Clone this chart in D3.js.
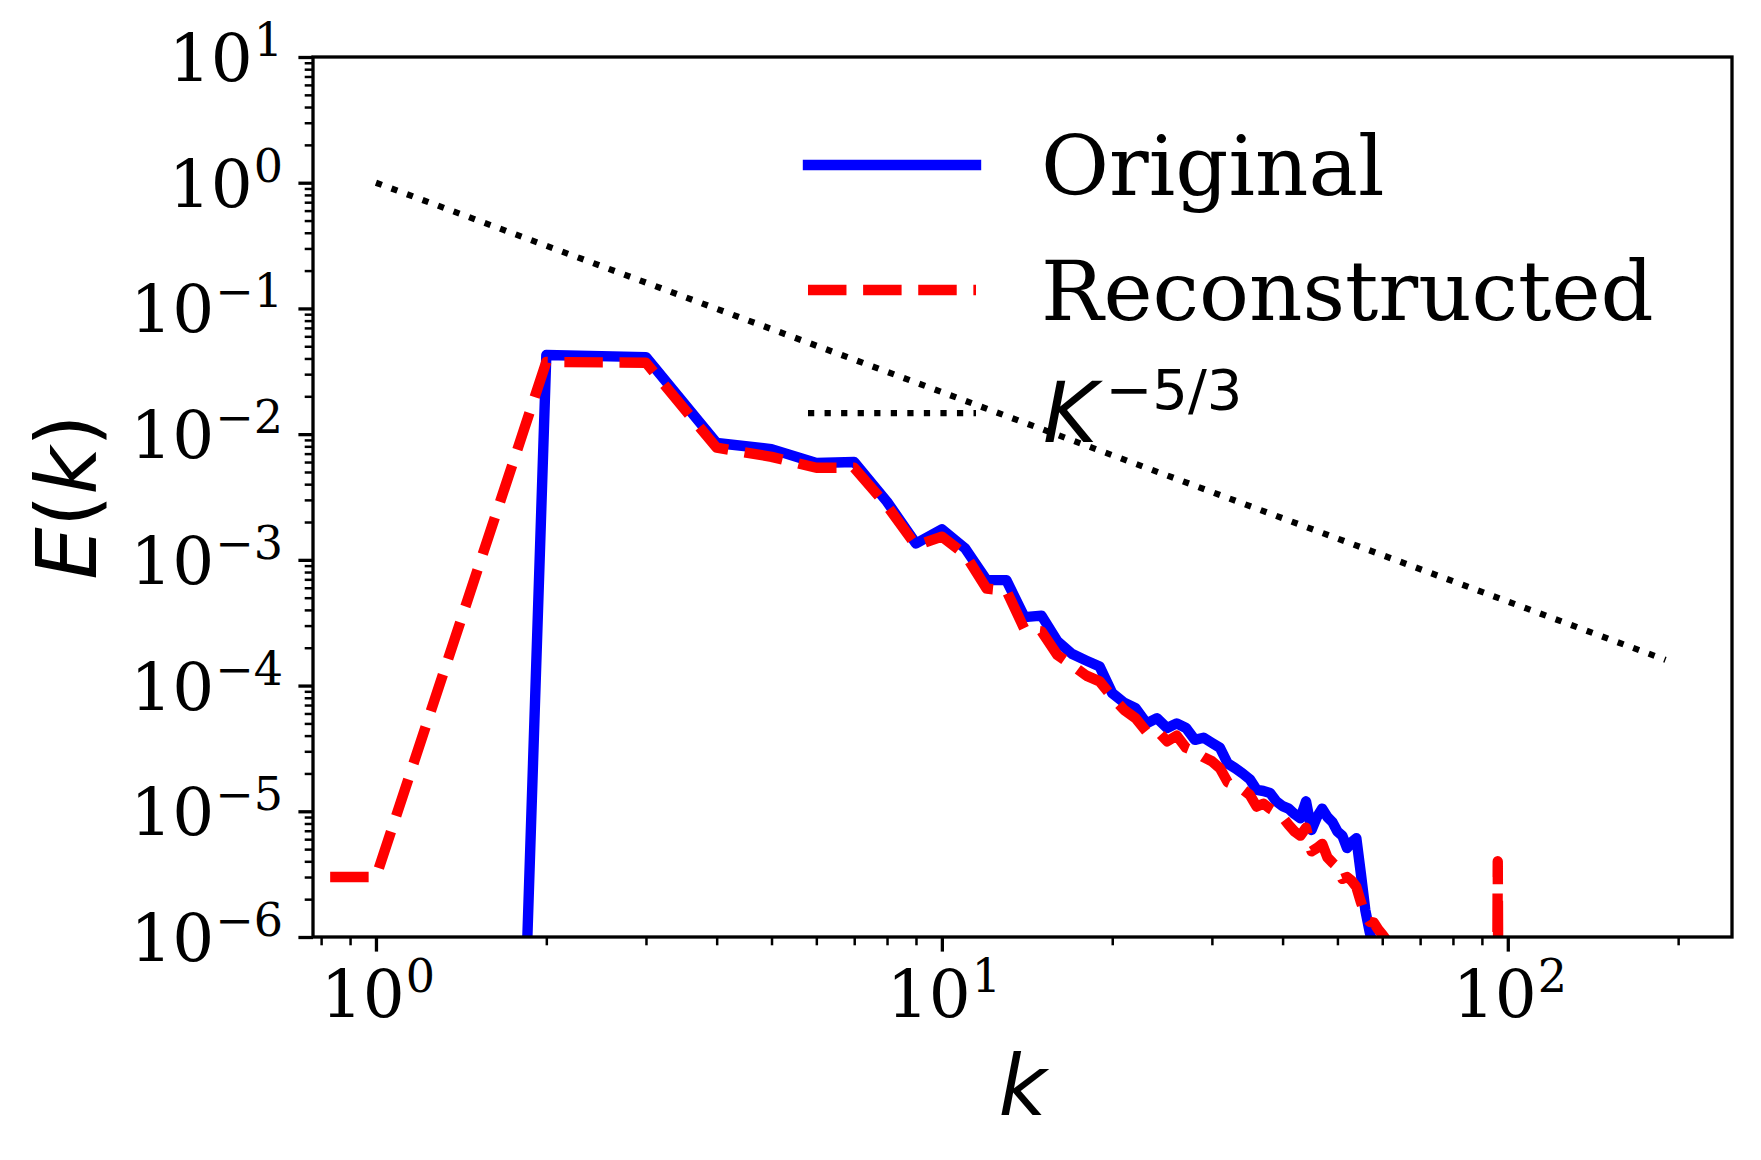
<!DOCTYPE html>
<html lang="en">
<head>
<meta charset="UTF-8">
<script src="https://d3js.org/d3.v7.min.js"></script>
<style>
    body {margin: 0; background-color: #ffffff;}
    svg {display: block;}
</style>
</head>
<body>
<svg class="chart"></svg>
<script>
// wavenumbers and spectra
const kOrig = [1, 2, 3, 4, 5, 6, 7, 8, 9, 10,
    11, 12, 13, 14, 15, 16, 17, 18, 19, 20,
    21, 22, 23, 24, 25, 26, 27, 28, 29, 30,
    31, 32, 33, 34, 35, 36, 37, 38, 39, 40,
    41, 42, 43, 44, 45, 46, 47, 48, 49, 50,
    51, 52, 53, 54, 55, 56, 57, 58, 59, 60];
const eOrig = [1e-43, 0.0426, 0.041, 0.0085, 0.0076, 0.0059, 0.006, 0.0029, 0.00135, 0.00175,
    0.00123, 0.00069, 0.00069, 3.5e-4, 3.6e-4, 2.25e-4, 1.78e-4, 1.58e-4, 1.42e-4, 8.7e-5,
    7.3e-5, 6.6e-5, 5.0e-5, 5.5e-5, 4.6e-5, 5.0e-5, 4.6e-5, 3.7e-5, 3.85e-5, 3.5e-5,
    3.2e-5, 2.4e-5, 2.2e-5, 2.0e-5, 1.8e-5, 1.48e-5, 1.45e-5, 1.4e-5, 1.2e-5, 1.1e-5,
    1.05e-5, 9.5e-6, 8.8e-6, 1.2e-5, 7.1e-6, 9.0e-6, 1.05e-5, 9.0e-6, 8.2e-6, 6.9e-6,
    6.4e-6, 5.1e-6, 5.7e-6, 6.1e-6, 3.2e-6, 1.64e-6, 1.1e-6, 8e-7, 6e-7, 4e-7];

const kRec = [0.83, 1, 2, 3, 4, 5, 6, 7, 8, 9, 10,
    11, 12, 13, 14, 15, 16, 17, 18, 19, 20,
    21, 22, 23, 24, 25, 26, 27, 28, 29, 30,
    31, 32, 33, 34, 35, 36, 37, 38, 39, 40,
    41, 42, 43, 44, 45, 46, 47, 48, 49, 50,
    51, 52, 53, 54, 55, 56, 57, 58, 59, 60,
    61, 62, 63, 64, 95, 96, 97];
const eRec = [3e-6, 3e-6, 0.0375, 0.037, 0.0078, 0.0066, 0.0054, 0.0054, 0.0027, 0.0013, 0.00153,
    0.0011, 5.9e-4, 5.7e-4, 2.8e-4, 2.7e-4, 1.75e-4, 1.45e-4, 1.2e-4, 1.08e-4, 8.1e-5,
    6.4e-5, 5.5e-5, 4.3e-5, 4.4e-5, 3.6e-5, 4.0e-5, 3.2e-5, 3.0e-5, 2.7e-5, 2.5e-5,
    2.2e-5, 1.7e-5, 1.6e-5, 1.5e-5, 1.35e-5, 1.09e-5, 1.15e-5, 1.05e-5, 9.8e-6, 9.0e-6,
    7.8e-6, 6.9e-6, 6.4e-6, 7.4e-6, 4.8e-6, 5.1e-6, 5.5e-6, 4.3e-6, 3.9e-6, 3.6e-6,
    2.9e-6, 3.0e-6, 2.8e-6, 2.5e-6, 1.9e-6, 1.5e-6, 1.32e-6, 1.3e-6, 1.15e-6, 1.05e-6,
    9.5e-7, 8.5e-7, 7e-7, 5e-7, 1e-10, 4e-6, 1e-10];

// k^(-5/3) reference line end points
const kRef = [1, 190];
const eRef = [1, 1.6e-4];

const xDomain = [0.774, 249];
const yDomain = [1e-6, 10];
const legendLabels = ['Original', 'Reconstructed'];

const width = 1761, height = 1160;
const margin = {left: 313, right: 29, top: 57, bottom: 223};
const lw = 10.4;

let svg = d3.select('.chart')
    .attr('width', width)
    .attr('height', height);

let x = d3.scaleLog().domain(xDomain).range([margin.left, width - margin.right]);
let y = d3.scaleLog().domain(yDomain).range([height - margin.bottom, margin.top]);

let isMajor = v => Math.abs(Math.log10(v) - Math.round(Math.log10(v))) < 1e-9;
let xMajor = x.ticks().filter(isMajor), xMinor = x.ticks().filter(v => !isMajor(v));
let yMajor = y.ticks().filter(isMajor), yMinor = y.ticks().filter(v => !isMajor(v));

svg.append('clipPath').attr('id', 'plot-clip')
    .append('rect')
    .attr('x', margin.left).attr('y', margin.top)
    .attr('width', width - margin.left - margin.right)
    .attr('height', height - margin.top - margin.bottom);

let line = d3.line().x(d => x(d[0])).y(d => y(d[1]));
let plot = svg.append('g').attr('clip-path', 'url(#plot-clip)');

plot.append('path')
    .attr('d', line(d3.zip(kOrig, eOrig)))
    .attr('fill', 'none').attr('stroke', '#0000ff')
    .attr('stroke-width', lw).attr('stroke-linejoin', 'round').attr('stroke-linecap', 'square');

plot.append('path')
    .attr('d', line(d3.zip(kRec, eRec)))
    .attr('fill', 'none').attr('stroke', '#ff0000')
    .attr('stroke-width', lw).attr('stroke-linejoin', 'round')
    .attr('stroke-dasharray', (3.7 * lw) + ',' + (1.6 * lw));

plot.append('path')
    .attr('d', line(d3.zip(kRef, eRef)))
    .attr('fill', 'none').attr('stroke', '#000000')
    .attr('stroke-width', 6.25)
    .attr('stroke-dasharray', '6.25,10.3');

// axes: ticks from d3, labels drawn with superscripts
function styleAxis(g, w) {
    g.select('.domain').remove();
    g.selectAll('line').attr('stroke', '#000').attr('stroke-width', w);
    g.selectAll('text').remove();
}

svg.append('g').attr('transform', `translate(0,${height - margin.bottom})`)
    .call(d3.axisBottom(x).tickValues(xMinor).tickSize(8.3)).call(g => styleAxis(g, 2.5));
svg.append('g').attr('transform', `translate(0,${height - margin.bottom})`)
    .call(d3.axisBottom(x).tickValues(xMajor).tickSize(14.6)).call(g => styleAxis(g, 3.3));
svg.append('g').attr('transform', `translate(${margin.left},0)`)
    .call(d3.axisLeft(y).tickValues(yMinor).tickSize(8.3)).call(g => styleAxis(g, 2.5));
svg.append('g').attr('transform', `translate(${margin.left},0)`)
    .call(d3.axisLeft(y).tickValues(yMajor).tickSize(14.6)).call(g => styleAxis(g, 3.3));

function powerLabel(sel, v) {
    let e = Math.round(Math.log10(v));
    sel.append('tspan').text('10');
    sel.append('tspan').attr('dy', -25).attr('dx', 1).attr('font-size', 46)
        .text(e < 0 ? '\u2212' + (-e) : String(e));
}

xMajor.forEach(v => {
    svg.append('text')
        .attr('x', x(v) + 2).attr('y', height - margin.bottom + 80)
        .attr('text-anchor', 'middle')
        .attr('font-family', 'DejaVu Serif').attr('font-size', 66)
        .call(t => powerLabel(t, v));
});

yMajor.forEach(v => {
    svg.append('text')
        .attr('x', margin.left - 30).attr('y', y(v) + 24)
        .attr('text-anchor', 'end')
        .attr('font-family', 'DejaVu Serif').attr('font-size', 66)
        .call(t => powerLabel(t, v));
});

// frame
svg.append('rect')
    .attr('x', margin.left).attr('y', margin.top)
    .attr('width', width - margin.left - margin.right)
    .attr('height', height - margin.top - margin.bottom)
    .attr('fill', 'none').attr('stroke', '#000').attr('stroke-width', 3.3);

// axis labels
let xl = svg.append('text')
    .attr('x', (margin.left + width - margin.right) / 2).attr('y', 1115)
    .attr('text-anchor', 'middle')
    .attr('font-family', 'DejaVu Sans').attr('font-size', 83);
xl.append('tspan').attr('font-style', 'italic').text('k');

let yl = svg.append('text')
    .attr('transform', `translate(96,${(margin.top + height - margin.bottom) / 2}) rotate(-90)`)
    .attr('text-anchor', 'middle')
    .attr('font-family', 'DejaVu Sans').attr('font-size', 83);
yl.append('tspan').attr('font-style', 'italic').text('E');
yl.append('tspan').text('(');
yl.append('tspan').attr('font-style', 'italic').text('k');
yl.append('tspan').text(')');

// legend
let legend = svg.append('g');
let rows = [165, 290, 413];
let x0 = 808, x1 = 976;

legend.append('line').attr('x1', x0).attr('x2', x1).attr('y1', rows[0]).attr('y2', rows[0])
    .attr('stroke', '#0000ff').attr('stroke-width', lw).attr('stroke-linecap', 'square');
legend.append('line').attr('x1', x0).attr('x2', x1).attr('y1', rows[1]).attr('y2', rows[1])
    .attr('stroke', '#ff0000').attr('stroke-width', lw)
    .attr('stroke-dasharray', (3.7 * lw) + ',' + (1.6 * lw));
legend.append('line').attr('x1', x0).attr('x2', x1).attr('y1', rows[2]).attr('y2', rows[2])
    .attr('stroke', '#000').attr('stroke-width', 6.25).attr('stroke-dasharray', '6.25,10.3');

legendLabels.forEach((s, i) => {
    legend.append('text')
        .attr('x', 1041).attr('y', rows[i] + 30)
        .attr('font-family', 'DejaVu Serif').attr('font-size', 83)
        .text(s);
});
let kt = legend.append('text')
    .attr('x', 1043).attr('y', rows[2] + 29)
    .attr('font-family', 'DejaVu Sans').attr('font-size', 83);
kt.append('tspan').attr('font-style', 'italic').text('K');
kt.append('tspan').attr('dy', -33).attr('dx', 8).attr('font-size', 56).text('\u22125/3');
</script>
</body>
</html>
